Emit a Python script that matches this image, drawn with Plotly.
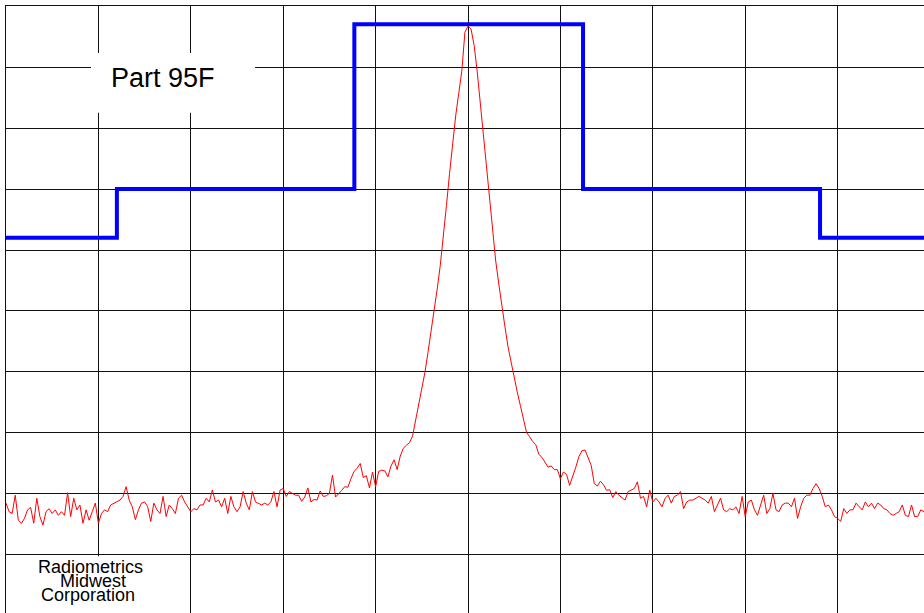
import numpy as np
import plotly.graph_objects as go

# Spectrum analyzer sweep: frequency offset in divisions (-5 .. +5), 301 sweep points
freq_div = np.linspace(-5, 5, 301)

# Measured level (dB, 10 dB/div, top of screen = 0 dB)
level_db = [
    -81.5, -82.9, -83.2, -80.2, -84.3, -84.8, -84.0, -82.6, -82.2, -84.8,
    -80.7, -83.7, -85.1, -82.9, -82.4, -83.2, -82.6, -83.5, -82.9, -83.5,
    -79.8, -83.7, -80.7, -82.6, -81.8, -84.8, -82.6, -84.3, -82.9, -81.5,
    -84.8, -83.2, -82.6, -82.9, -81.8, -81.5, -81.3, -81.0, -80.4, -78.8,
    -81.0, -82.1, -84.2, -82.6, -81.5, -81.3, -82.1, -84.5, -81.5, -82.6,
    -83.2, -80.4, -83.7, -81.8, -82.4, -83.2, -80.7, -80.2, -81.3, -82.1,
    -82.9, -82.4, -82.6, -81.8, -81.8, -80.7, -81.3, -79.35, -81.3, -81.0,
    -82.1, -80.7, -83.2, -80.4, -82.1, -82.9, -82.1, -79.6, -81.5, -82.6,
    -79.6, -81.3, -81.5, -81.8, -81.5, -81.8, -81.3, -79.6, -82.1, -79.35,
    -79.1, -80.4, -79.6, -79.9, -80.2, -80.2, -81.2, -80.5, -79.0, -81.3,
    -80.9, -81.0, -79.5, -80.4, -80.3, -79.9, -76.9, -80.5, -80.0, -79.4,
    -78.8, -78.9, -77.5, -76.3, -75.8, -75.0, -77.3, -77.0, -79.0, -76.4,
    -78.8, -76.3, -76.1, -76.2, -77.2, -75.4, -74.4, -76.0, -73.8, -72.5,
    -72.0, -71.6, -70.5, -68.0, -65.4, -62.7, -60.1, -56.8, -53.5, -50.2,
    -46.4, -42.5, -38.1, -32.7, -27.5, -22.3, -18.0, -14.3, -10.6, -4.3,
    -3.3, -3.8, -6.5, -10.8, -16.0, -21.1, -26.0, -31.1, -36.8, -41.8,
    -45.6, -49.5, -52.6, -55.9, -58.5, -61.1, -63.3, -65.5, -67.6, -69.9,
    -70.6, -71.4, -71.9, -73.5, -74.0, -74.8, -75.6, -75.4, -76.0, -76.0,
    -77.5, -76.4, -76.8, -78.6, -77.2, -75.6, -73.9, -72.9, -72.8, -74.0,
    -75.3, -78.3, -78.7, -77.9, -78.5, -79.4, -79.3, -80.6, -79.6, -80.2,
    -80.6, -81.0, -79.6, -79.35, -79.1, -78.0, -80.7, -80.4, -82.1, -79.35,
    -81.3, -80.7, -81.3, -82.1, -80.7, -80.2, -81.5, -80.4, -80.2, -79.6,
    -82.4, -81.3, -81.0, -81.0, -80.7, -80.4, -80.7, -81.0, -81.5, -80.4,
    -82.9, -81.8, -80.7, -82.6, -82.9, -82.4, -82.6, -82.1, -83.2, -80.4,
    -83.7, -81.3, -81.0, -82.6, -83.5, -81.8, -80.2, -83.2, -82.4, -79.9,
    -82.6, -82.9, -81.8, -81.5, -81.5, -82.1, -80.7, -84.0, -82.1, -80.7,
    -80.2, -80.2, -79.1, -78.3, -79.1, -80.4, -82.1, -81.8, -82.6, -83.7,
    -84.0, -84.5, -82.4, -83.2, -82.6, -82.6, -81.5, -82.1, -82.6, -81.3,
    -82.1, -81.5, -82.4, -81.5, -81.8, -82.4, -82.6, -83.2, -83.5, -83.2,
    -82.9, -81.8, -83.5, -83.7, -81.8, -83.7, -83.7, -82.6, -82.9, -82.5,
    -83.0,
]

# Part 95F emission mask
mask_freq = [-5.2, -3.80, -3.80, -1.23, -1.23, 1.245, 1.245, 3.81, 3.81, 5.2]
mask_level = [-38, -38, -30, -30, -3, -3, -30, -30, -38, -38]

GRID = "#111111"

fig = go.Figure()
fig.add_trace(go.Scatter(x=freq_div, y=level_db, mode="lines",
                         line=dict(color="#ff0000", width=1), hoverinfo="skip"))
fig.add_trace(go.Scatter(x=mask_freq, y=mask_level, mode="lines",
                         line=dict(color="#0000ff", width=4), hoverinfo="skip"))

# white label boxes (over the grid)
fig.add_shape(type="rect", xref="x", yref="y", x0=-4.08, x1=-2.305, y0=-7.7, y1=-17.5,
              fillcolor="white", line=dict(width=0), layer="between")
fig.add_shape(type="rect", xref="x", yref="y", x0=-4.83, x1=-3.33, y0=-90.2, y1=-101,
              fillcolor="white", line=dict(width=0), layer="between")

fig.add_annotation(x=-3.30, y=-11.8, xref="x", yref="y", text="Part 95F", showarrow=False,
                   font=dict(family="Liberation Sans, Arial", size=27, color="black"),
                   xanchor="center", yanchor="middle")
for txt, cx, cy in [("Radiometrics", -4.09, -91.9), ("Midwest", -4.06, -94.3),
                    ("Corporation", -4.11, -96.6)]:
    fig.add_annotation(x=cx, y=cy, xref="x", yref="y", text=txt, showarrow=False,
                       font=dict(family="Liberation Sans, Arial", size=18, color="black"),
                       xanchor="center", yanchor="middle")

fig.update_xaxes(range=[-5, 4.935], tick0=-5, dtick=1, showgrid=True, gridcolor=GRID,
                 gridwidth=1.3, showticklabels=False, ticks="", zeroline=False,
                 showline=True, linecolor=GRID, linewidth=1.3, side="top")
fig.update_yaxes(range=[-99.51, 0], tick0=0, dtick=10, showgrid=True, gridcolor=GRID,
                 gridwidth=1.3, showticklabels=False, ticks="", zeroline=False,
                 showline=True, linecolor=GRID, linewidth=1.3, side="left")

fig.update_layout(width=924, height=613, margin=dict(l=6, r=0, t=6, b=0, pad=0),
                  paper_bgcolor="white", plot_bgcolor="white", showlegend=False)

fig.write_html("out.html")
